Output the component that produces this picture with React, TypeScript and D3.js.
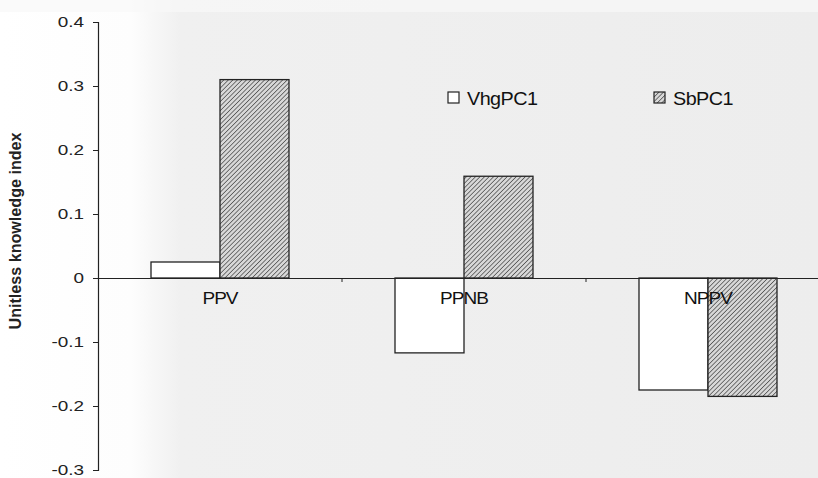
import React, { useEffect, useRef } from "react";
import * as d3 from "d3";

// data
const categories: string[] = ["PPV", "PPNB", "NPPV"];
const seriesNames: string[] = ["VhgPC1", "SbPC1"];
const vhgValues: number[] = [0.025, -0.117, -0.175];
const sbValues: number[] = [0.31, 0.159, -0.185];
const yTicks: number[] = [-0.3, -0.2, -0.1, 0, 0.1, 0.2, 0.3, 0.4];

const W = 818;
const H = 478;
const FONT = "Liberation Sans, Arial, sans-serif";

// the scan is a bit wider than the font, so widen text along its run
function widen(sel: d3.Selection<any, any, any, any>, factor: number) {
  sel.each(function () {
    const t = this as SVGTextElement;
    const w = t.getComputedTextLength();
    d3.select(t).attr("textLength", w * factor).attr("lengthAdjust", "spacingAndGlyphs");
  });
}

const App: React.FC = () => {
  const svgRef = useRef<SVGSVGElement | null>(null);

  useEffect(() => {
    if (!svgRef.current) return;
    const svg = d3.select(svgRef.current);
    svg.selectAll("*").remove();

    const margin = { top: 22, left: 98 };
    const plotRight = 830; // chart runs past the crop on the right

    const defs = svg.append("defs");
    const grad = defs.append("linearGradient").attr("id", "scan").attr("x1", "0").attr("x2", "1");
    grad.append("stop").attr("offset", "0").attr("stop-color", "#ffffff");
    grad.append("stop").attr("offset", "0.16").attr("stop-color", "#fdfdfd");
    grad.append("stop").attr("offset", "0.22").attr("stop-color", "#f0f0f0");
    grad.append("stop").attr("offset", "1").attr("stop-color", "#ededed");

    const hatch = defs.append("pattern")
      .attr("id", "hatch")
      .attr("patternUnits", "userSpaceOnUse")
      .attr("width", 3.2)
      .attr("height", 3.2)
      .attr("patternTransform", "rotate(45)");
    hatch.append("rect").attr("width", 3.2).attr("height", 3.2).attr("fill", "#d8d8d8");
    hatch.append("line")
      .attr("x1", 0).attr("y1", 0).attr("x2", 0).attr("y2", 3.2)
      .attr("stroke", "#3a3a3a").attr("stroke-width", 1.3);

    svg.append("rect").attr("width", W).attr("height", H).attr("fill", "url(#scan)");
    // lighter strip along the top of the scan
    svg.append("rect").attr("width", W).attr("height", 12).attr("fill", "#f8f8f8").attr("opacity", 0.7);

    const y = d3.scaleLinear().domain([-0.3, 0.4]).range([470, margin.top]);
    const x0 = d3.scaleBand<string>().domain(categories).range([margin.left, plotRight]);
    const x1 = d3.scaleBand<string>().domain(seriesNames).range([0, 138]);
    const groupOffset = (x0.bandwidth() - 138) / 2;

    // y axis
    const yAxis = svg.append("g")
      .attr("transform", `translate(${margin.left},0)`)
      .call(d3.axisLeft(y).tickValues(yTicks).tickSize(5).tickPadding(9)
        .tickFormat((d) => (d === 0 ? "0" : (d as number).toFixed(1))));
    yAxis.attr("font-size", null).attr("font-family", null);
    yAxis.select(".domain").attr("stroke", "#222").attr("stroke-width", 1.2);
    yAxis.selectAll("line").attr("stroke", "#222");
    const yText = yAxis.selectAll("text")
      .style("font-family", FONT)
      .style("font-size", "15.5px")
      .attr("fill", "#222");
    widen(yText, 1.22);

    const yLabel = svg.append("text")
      .attr("transform", `translate(21,231) rotate(-90)`)
      .attr("text-anchor", "middle")
      .style("font-family", FONT)
      .style("font-size", "17px")
      .style("font-weight", "bold")
      .attr("fill", "#222")
      .text("Unitless knowledge index");
    yLabel.attr("textLength", 197).attr("lengthAdjust", "spacingAndGlyphs");

    // bars
    const series = [
      { name: seriesNames[0], values: vhgValues, fill: "#ffffff" },
      { name: seriesNames[1], values: sbValues, fill: "url(#hatch)" },
    ];
    series.forEach((s) => {
      svg.append("g").selectAll("rect")
        .data(categories)
        .join("rect")
        .attr("x", (c) => (x0(c) ?? 0) + groupOffset + (x1(s.name) ?? 0))
        .attr("y", (c, i) => y(Math.max(0, s.values[i])))
        .attr("width", x1.bandwidth())
        .attr("height", (c, i) => Math.abs(y(s.values[i]) - y(0)))
        .attr("fill", s.fill)
        .attr("stroke", "#222")
        .attr("stroke-width", 1.3);
    });

    // x axis at zero
    const xAxis = svg.append("g")
      .attr("transform", `translate(0,${y(0)})`)
      .call(d3.axisBottom(x0).tickSize(0).tickPadding(14));
    xAxis.attr("font-size", null).attr("font-family", null);
    xAxis.select(".domain").attr("stroke", "#222").attr("stroke-width", 1.2);
    const xText = xAxis.selectAll("text")
      .style("font-family", FONT)
      .style("font-size", "16.5px")
      .style("letter-spacing", "-0.8px")
      .attr("fill", "#111");
    widen(xText, 1.15);
    // small ticks between categories
    svg.append("g").selectAll("line")
      .data(categories.slice(1))
      .join("line")
      .attr("x1", (c) => x0(c) ?? 0)
      .attr("x2", (c) => x0(c) ?? 0)
      .attr("y1", y(0))
      .attr("y2", y(0) + 4)
      .attr("stroke", "#222");

    // legend
    const legendX = [448, 654];
    const legend = svg.append("g").selectAll("g")
      .data(series)
      .join("g")
      .attr("transform", (d, i) => `translate(${legendX[i]},92)`);
    legend.append("rect")
      .attr("width", 11).attr("height", 11)
      .attr("fill", (d) => d.fill)
      .attr("stroke", "#222")
      .attr("stroke-width", 1.2);
    const legendText = legend.append("text")
      .attr("x", 19)
      .attr("y", 13)
      .style("font-family", FONT)
      .style("font-size", "18px")
      .style("letter-spacing", "-0.5px")
      .attr("fill", "#111")
      .text((d) => d.name);
    widen(legendText, 1.1);
  }, []);

  return (
    <svg
      ref={svgRef}
      width={W}
      height={H}
      style={{ position: "absolute", left: 0, top: 0, display: "block" }}
    />
  );
};

export default App;
